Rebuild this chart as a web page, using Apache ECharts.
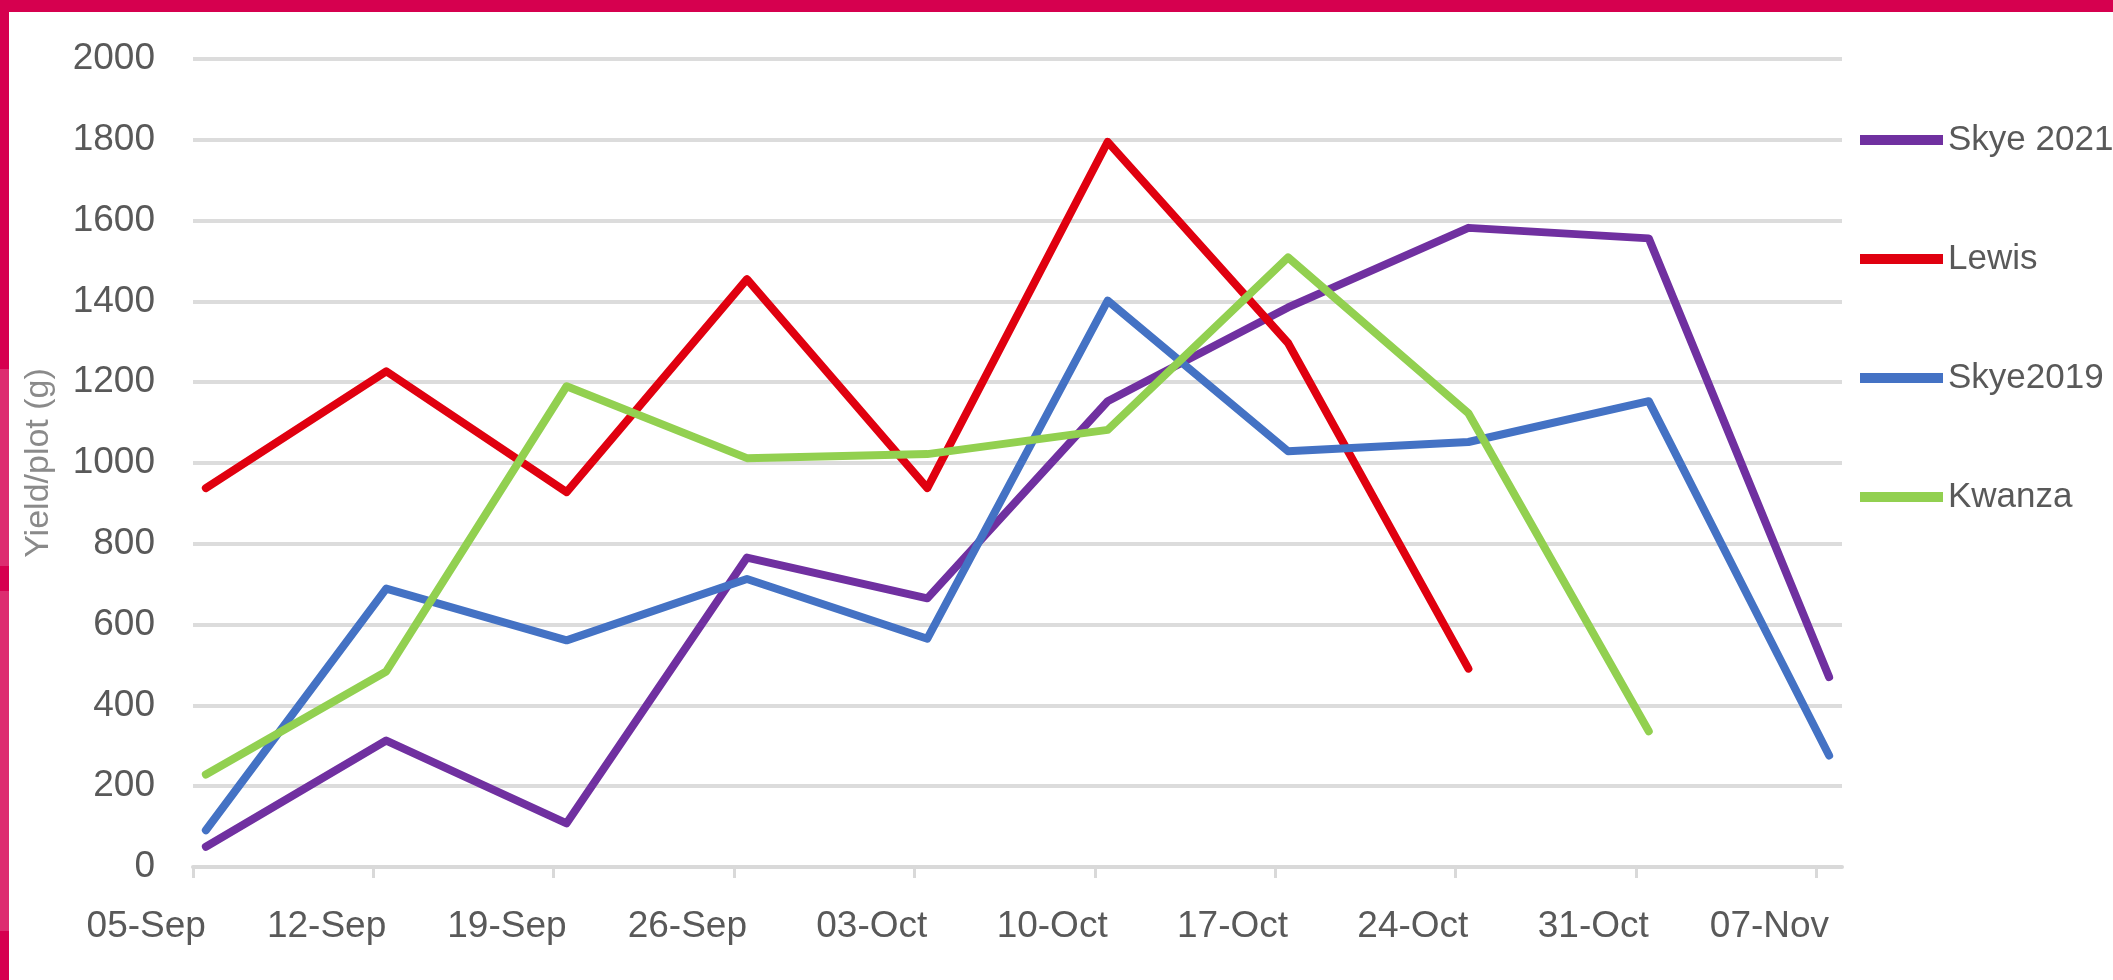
<!DOCTYPE html>
<html>
<head>
<meta charset="utf-8">
<title>Yield per plot</title>
<script src="https://cdn.jsdelivr.net/npm/echarts@6/dist/echarts.min.js"></script>
<style>
    html, body { margin: 0; padding: 0; background: #fff; overflow: hidden; }
    #chartRoot { position: absolute; left: 0; top: 0; width: 2113px; height: 980px; }
    .frame-top { position: absolute; left: 0; top: 0; width: 2113px; height: 12px; background: #d6004f; }
    .frame-left {
        position: absolute; left: 0; top: 0; width: 9px; height: 980px;
        background: linear-gradient(to bottom,
            #d6004f 0px, #d6004f 369px, #dd2d70 369px, #dd2d70 566px,
            #d6004f 566px, #d6004f 591px, #dd2d70 591px, #dd2d70 931px,
            #d6004f 931px, #d6004f 980px);
    }
</style>
</head>
<body>
<div id="chartRoot"></div>
<div class="frame-top"></div>
<div class="frame-left"></div>
<script>
    // 每周一次的采收日期（从 05-Sep 开始）
    const dates = ["05-Sep", "12-Sep", "19-Sep", "26-Sep", "03-Oct", "10-Oct", "17-Oct", "24-Oct", "31-Oct", "07-Nov"];

    const skye2021 = [50, 313, 108, 766, 665, 1153, 1385, 1582, 1556, 470];
    const lewis = [938, 1227, 928, 1455, 938, 1795, 1297, 491];
    const skye2019 = [91, 689, 561, 713, 565, 1402, 1029, 1052, 1153, 276];
    const kwanza = [229, 484, 1190, 1012, 1022, 1082, 1509, 1123, 336];

    const yTicks = [0, 200, 400, 600, 800, 1000, 1200, 1400, 1600, 1800, 2000];

    const seriesDefs = [
        {name: "Skye 2021", color: "#7030a0", data: skye2021},
        {name: "Lewis", color: "#e0000f", data: lewis},
        {name: "Skye2019", color: "#4472c4", data: skye2019},
        {name: "Kwanza", color: "#92d050", data: kwanza}
    ];

    // x 轴按天计，点落在当天的中间（Excel 日期轴 "between tick marks"）
    const totalDays = dates.length * 7 - 6;
    const tickDays = dates.map((d, i) => i * 7);
    const labelDays = dates.map((d, i) => i * 7 + 0.5);

    const font = "'Liberation Sans', Arial, sans-serif";
    const grey = "#595959";

    let myChart = echarts.init(document.querySelector("#chartRoot"), null, {renderer: "canvas"});

    let option = {
        animation: false,
        backgroundColor: "transparent",
        grid: {
            left: 193,
            right: 271,
            top: 59,
            bottom: 113,
            containLabel: false
        },
        legend: {
            orient: "vertical",
            left: 1855,
            top: 115,
            itemWidth: 83,
            itemHeight: 10,
            itemGap: 79,
            icon: "rect",
            data: seriesDefs.map(s => s.name),
            textStyle: {
                fontFamily: font,
                fontSize: 35,
                color: grey,
                lineHeight: 40
            }
        },
        xAxis: {
            type: "value",
            min: 0,
            max: totalDays,
            interval: 7,
            splitLine: {show: false},
            axisLine: {
                show: true,
                lineStyle: {color: "#d9d9d9", width: 4}
            },
            axisTick: {
                show: true,
                length: 11,
                customValues: tickDays,
                lineStyle: {color: "#d9d9d9", width: 3}
            },
            axisLabel: {
                customValues: labelDays,
                align: "right",
                margin: 41,
                fontFamily: font,
                fontSize: 37,
                color: grey,
                formatter: value => dates[Math.floor(value / 7)]
            }
        },
        yAxis: {
            type: "value",
            min: 0,
            max: 2000,
            interval: 200,
            name: "Yield/plot (g)",
            nameLocation: "middle",
            nameGap: 137,
            nameTextStyle: {
                fontFamily: font,
                fontSize: 34,
                color: "#8a8a8a"
            },
            axisLine: {show: false},
            axisTick: {show: false},
            axisLabel: {
                margin: 38,
                fontFamily: font,
                fontSize: 37,
                color: grey,
                formatter: value => yTicks.indexOf(value) >= 0 ? String(value) : ""
            },
            splitLine: {
                show: true,
                lineStyle: {color: "#dcdcdc", width: 4}
            }
        },
        series: seriesDefs.map(s => ({
            type: "line",
            name: s.name,
            data: s.data.map((v, i) => [labelDays[i], v]),
            showSymbol: false,
            symbol: "none",
            lineStyle: {color: s.color, width: 8, join: "round", cap: "round"},
            itemStyle: {color: s.color}
        }))
    };
    myChart.setOption(option, true);
</script>
</body>
</html>
